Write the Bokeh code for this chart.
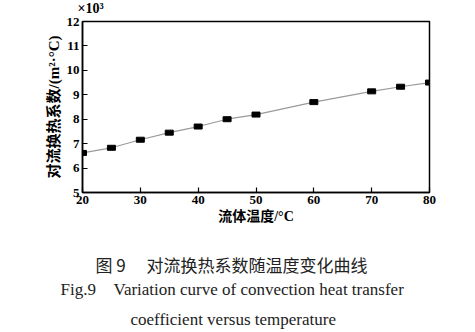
from bokeh.plotting import figure
from bokeh.models import Range1d, FixedTicker, ColumnDataSource
from bokeh.layouts import column
from bokeh.core.properties import value
from bokeh.embed import file_html
from bokeh.resources import INLINE

# Data (heat transfer coefficient in units of 10^3 W/(m^2·°C))
temperature = [20, 25, 30, 35, 40, 45, 50, 60, 70, 75, 80]
coefficient = [6.62, 6.83, 7.16, 7.45, 7.70, 8.00, 8.19, 8.70, 9.14, 9.33, 9.50]
x_ticks = [20, 30, 40, 50, 60, 70, 80]
y_ticks = [5, 6, 7, 8, 9, 10, 11, 12]
exponent_text = ["×10³"]
caption_texts = ["图 9", "对流换热系数随温度变化曲线", "Fig.9",
                 "Variation curve of convection heat transfer",
                 "coefficient versus temperature"]

SERIF = "'Liberation Serif', 'Noto Sans CJK SC'"
CJK = "'Noto Sans CJK SC'"


def blank(height):
    f = figure(width=475, height=height, output_backend="svg", toolbar_location=None,
               x_range=Range1d(0, 475), y_range=Range1d(0, height),
               x_axis_type=None, y_axis_type=None, min_border=0)
    f.frame_align = False
    f.outline_line_color = None
    f.xgrid.visible = False
    f.ygrid.visible = False
    f.background_fill_color = "white"
    f.border_fill_color = "white"
    return f


# strip above the plot holding the exponent marker
top = blank(15)
top.text(x=[77], y=[7.5], text=exponent_text, text_font=value(SERIF), text_font_size="14px",
         text_font_style="bold", text_color="black", text_baseline="middle", text_align="left")

p = figure(width=475, height=217, output_backend="svg", toolbar_location=None,
           x_range=Range1d(20, 80), y_range=Range1d(5, 12),
           min_border_left=82, min_border_right=46, min_border_top=6, min_border_bottom=40)
p.frame_align = False
p.background_fill_color = "white"
p.border_fill_color = "white"
p.outline_line_color = "black"
p.outline_line_width = 1.5
p.xgrid.visible = False
p.ygrid.visible = False

for ax in (p.xaxis[0], p.yaxis[0]):
    ax.axis_line_color = "black"
    ax.axis_line_width = 1.5
    ax.major_tick_in = 5
    ax.major_tick_out = 0
    ax.major_tick_line_color = "black"
    ax.major_tick_line_width = 1.2
    ax.minor_tick_line_color = None
    ax.major_label_text_font = SERIF
    ax.major_label_text_font_style = "bold"
    ax.major_label_text_font_size = "13px"
    ax.major_label_text_color = "black"
    ax.axis_label_text_font = SERIF
    ax.axis_label_text_font_style = "bold"
    ax.axis_label_text_color = "black"

p.xaxis.ticker = FixedTicker(ticks=x_ticks)
p.yaxis.ticker = FixedTicker(ticks=y_ticks)
p.xaxis.major_label_standoff = 3
p.yaxis.major_label_standoff = 3
p.xaxis.axis_label = "流体温度/°C"
p.yaxis.axis_label = "对流换热系数/(m²·°C)"
p.xaxis.axis_label_text_font_size = "14px"
p.yaxis.axis_label_text_font_size = "15px"
p.xaxis.axis_label_standoff = 2
p.yaxis.axis_label_standoff = 2

p.line(temperature, coefficient, line_color="#9a9a9a", line_width=1.2)
p.rect(temperature, coefficient, width=8, height=5, width_units="screen", height_units="screen",
       fill_color="black", line_color="black")

# caption panel below the plot
cap = blank(100)
src_cjk = ColumnDataSource(dict(x=[95, 146], y=[68, 68], t=caption_texts[:2]))
src_en = ColumnDataSource(dict(x=[60, 113, 130], y=[43, 43, 13], t=caption_texts[2:]))
cap.text(x="x", y="y", text="t", source=src_cjk, text_font=value(CJK), text_font_size="17px",
         text_color="#222222", text_baseline="middle", text_align="left")
cap.text(x="x", y="y", text="t", source=src_en, text_font=value(SERIF), text_font_size="17px",
         text_color="#222222", text_baseline="middle", text_align="left")

layout = column(top, p, cap, spacing=0)
open("out.html", "w").write(file_html(layout, INLINE))
